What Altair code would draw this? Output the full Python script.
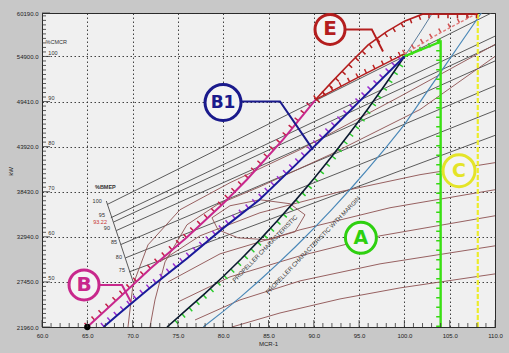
import altair as alt
import pandas as pd

# ---------------- axes ----------------
x_domain = [60, 110]
y_domain = [21960, 60190]
x_major = [60, 65, 70, 75, 80, 85, 90, 95, 100, 105, 110]
y_major = [21960, 27450, 32940, 38430, 43920, 49410, 54900, 60190]
x_minor = [v for v in range(61, 110) if v % 5 != 0]
y_minor = [21960 + 549 * k for k in range(1, 70) if k % 10 != 0]

cmcr_text = ["50", "60", "70", "80", "90", "100"]
cmcr_y = [27450, 32940, 38430, 43920, 49410, 54900]

# ---------------- constant %BMEP lines ----------------
mep_label = ["100", "95", "93.22", "90", "85", "80", "75"]
mep_x0 = [67.2, 67.6, 67.9, 68.2, 68.7, 69.2, 69.6]
mep_y0 = [36880, 35260, 34740, 33700, 32000, 30370, 28660]
mep_x1 = [109.6, 110, 110, 110, 110, 110, 110]
mep_y1 = [60190, 57370, 56300, 54350, 51330, 48310, 45290]
mep_lab_x = [66.6, 66.95, 67.17, 67.5, 68.28, 68.83, 69.16]
mep_lab_y = [37300, 35624, 34770, 34038, 32330, 30500, 28914]
mep_lab_color = ["#333", "#333", "#c83232", "#333", "#333", "#333", "#333"]
scale_x = [67.1, 70.1]
scale_y = [37300, 27330]

# ---------------- brown contour curves ----------------
brown = {
    "el1": ([69.49, 70.04, 71.70, 75.23, 80.75, 88.48, 99.51, 110],
            [21960, 27084, 31964, 36234, 39528, 43554, 50020, 56364]),
    "el2": ([71.92, 72.47, 73.58, 76.0, 79.32, 84.06, 91.79, 101.72, 110],
            [21960, 25254, 29890, 34404, 36844, 39040, 42944, 48434, 54900]),
    "loop": ([78.76, 80.75, 84.06, 87.37, 89.03, 87.93, 84.94, 81.63, 79.43, 78.76],
             [35258, 36722, 37454, 36966, 35624, 33550, 32574, 32818, 33794, 35258]),
    "br1": ([80.97, 86.27, 92.89, 99.51, 110], [21960, 23668, 25376, 26718, 28426]),
    "br2": ([76.89, 81.85, 88.48, 97.31, 110], [22814, 25254, 27572, 29646, 31842]),
    "br3": ([75.01, 80.75, 88.48, 97.31, 110], [25010, 28060, 30622, 33062, 35502]),
    "br4": ([73.91, 79.65, 88.48, 98.41, 110], [27450, 30866, 33794, 36478, 38674]),
    "br5": ([73.02, 77.44, 84.06, 92.89, 101.72, 110], [29890, 33062, 35868, 38430, 40504, 41968]),
}

# ---------------- engine limit lines ----------------
prop_x = [73.8, 76, 78, 80, 82, 84, 86, 88, 90, 92, 94, 96, 98, 100]
prop_y = [21960, 24100, 26050, 28110, 30270, 32540, 34920, 37410, 40020, 42750, 45600, 48570, 51670, 54900]
prop_ext_x = [100, 101, 102, 103.1]
prop_ext_y = [54900, 56560, 58260, 60190]
margin_x = [77.8, 80, 82, 84, 86, 88, 90, 92, 94, 96, 98, 100, 102, 104, 106, 108, 108.5]
margin_y = [21960, 23860, 25690, 27620, 29640, 31760, 33970, 36290, 38700, 41230, 43860, 46600, 49800, 53000, 56200, 59400, 60190]
b1_x = [66.8, 68.6, 72, 76, 80, 84, 88, 92, 96, 100]
b1_y = [21960, 23668, 26800, 30300, 34000, 37454, 41700, 46100, 50500, 54900]
b_x = [65, 68.6, 72, 76, 80, 82.6, 86.6, 90.2]
b_y = [21960, 25620, 29100, 32900, 37000, 39894, 44774, 49654]
red_x = [90.2, 95, 100]
red_y = [49654, 52400, 55200]
pink_x = [100, 104, 108.1]
pink_y = [55200, 57800, 60190]
e_x = [90.2, 92, 94, 96, 98, 100, 102, 103, 108.1]
e_y = [49654, 51800, 54100, 56300, 57900, 59200, 60050, 60050, 60050]
green_x = [100, 104, 104]
green_y = [54900, 56700, 21960]
yellow_x = [108.1, 108.1]
yellow_y = [21960, 60190]

# ---------------- annotations ----------------
circ_label = ["E", "B1", "B", "A", "C"]
circ_x = [91.79, 79.98, 64.64, 95.2, 106.03]
circ_y = [58194, 49288, 27084, 32818, 40992]
circ_size = [900, 1296, 900, 960, 1024]
circ_color = ["#b41e1e", "#1a1a8c", "#c8288c", "#2ed010", "#e4e428"]
circ_font = [20, 17, 20, 19, 19]

callouts = {
    "E": ([93.44, 96.4, 97.64], [58194, 58194, 55510], "#b41e1e"),
    "B1": ([81.96, 86.27, 89.91], [49410, 49410, 43554], "#1a1a8c"),
    "B": ([66.29, 68.83, 69.82], [27084, 27084, 25010], "#c8288c"),
}

rot_text = ["PROPELLER CHARACTERISTIC", "PROPELLER CHARACTERISTIC WITH MARGIN"]
rot_x = [84.6, 89.9]
rot_y = [31500, 31900]

FONT = "Liberation Sans"
XS = alt.Scale(domain=x_domain, nice=False, zero=False)
YS = alt.Scale(domain=y_domain, nice=False, zero=False)

x_axis = alt.Axis(values=x_major, format=".1f", grid=True, gridDash=[1.5, 2.5], gridColor="#2c2c2c",
                  gridWidth=0.9, ticks=False, domain=False, labelFontSize=6, labelColor="#222",
                  labelPadding=5, labelFlush=False, labelOverlap=False, labelFont=FONT,
                  title="MCR-1", titleFontSize=6, titleFontWeight="normal", titleFont=FONT,
                  titleColor="#222", titleX=226, titleY=16, titleBaseline="middle")
y_axis = alt.Axis(values=y_major, format=".1f", grid=True, gridDash=[1.5, 2.5], gridColor="#2c2c2c",
                  gridWidth=0.9, ticks=False, domain=False, labelFontSize=6, labelColor="#222",
                  labelPadding=4, labelFlush=False, labelOverlap=False, labelFont=FONT,
                  title="kW", titleFontSize=6, titleFontWeight="normal", titleFont=FONT,
                  titleColor="#222", titleX=-32, titleY=158, titleAngle=270,
                  titleBaseline="middle", titleAlign="center")


def pos():
    return dict(x=alt.X("x:Q", scale=XS, axis=x_axis), y=alt.Y("y:Q", scale=YS, axis=y_axis))


def line_layer(xs, ys, color, width=1.0, dash=None, xoff=0, yoff=0):
    df = pd.DataFrame({"x": xs, "y": ys, "i": list(range(len(xs)))})
    kw = dict(color=color, strokeWidth=width, clip=True)
    if dash:
        kw["strokeDash"] = dash
    if xoff:
        kw["xOffset"] = xoff
    if yoff:
        kw["yOffset"] = yoff
    return alt.Chart(df).mark_line(**kw).encode(order="i:Q", **pos())


def hatch(xs, ys, color, xoff, yoff, gap=6):
    return line_layer(xs, ys, color, width=4.5, dash=[1.5, gap], xoff=xoff, yoff=yoff)


layers = []

# MEP lines
mep_rows = []
for k in range(len(mep_label)):
    mep_rows.append({"s": mep_label[k], "x": mep_x0[k], "y": mep_y0[k], "i": 0})
    mep_rows.append({"s": mep_label[k], "x": mep_x1[k], "y": mep_y1[k], "i": 1})
layers.append(
    alt.Chart(pd.DataFrame(mep_rows)).mark_line(color="#4a4a4a", strokeWidth=0.9, clip=True).encode(
        detail="s:N", order="i:Q", **pos())
)
layers.append(line_layer(scale_x, scale_y, "#4a4a4a", 0.9))

# brown curves
brown_rows = []
for name, (bx, by) in brown.items():
    for i, (a, b) in enumerate(zip(bx, by)):
        brown_rows.append({"s": name, "x": a, "y": b, "i": i})
layers.append(
    alt.Chart(pd.DataFrame(brown_rows)).mark_line(color="#8c5050", strokeWidth=0.9, clip=True).encode(
        detail="s:N", order="i:Q", **pos())
)

# propeller characteristic with margin and extension
layers.append(line_layer(margin_x, margin_y, "#4a88b8", 1.2))
layers.append(line_layer(prop_ext_x, prop_ext_y, "#5a7c9c", 1.0))

# yellow and green limits
layers.append(line_layer(yellow_x, yellow_y, "#ecec2c", 2.2, dash=[5, 2]))
layers.append(hatch(green_x, green_y, "#36d812", -2.2, 0, gap=8))
layers.append(line_layer(green_x, green_y, "#3be014", 2.4))

# propeller curve
layers.append(hatch(prop_x, prop_y, "#2ccc2c", 1.8, 1.8, gap=8))
layers.append(line_layer(prop_x, prop_y, "#0c1a30", 1.6))

# B1
layers.append(hatch(b1_x, b1_y, "#9a30d0", -1.8, -1.8, gap=7))
layers.append(line_layer(b1_x, b1_y, "#1a1a9a", 2.0))

# B
layers.append(hatch(b_x, b_y, "#c42048", -1.8, -1.8, gap=8))
layers.append(line_layer(b_x, b_y, "#c8288c", 2.0))

# red MEP segment, pink dashed overload, E line
layers.append(hatch(red_x, red_y, "#c02424", -1.4, -1.8, gap=8))
layers.append(line_layer(red_x, red_y, "#b41e1e", 1.4))
layers.append(hatch(pink_x, pink_y, "#d05050", -1.4, -1.8, gap=9))
layers.append(line_layer(pink_x, pink_y, "#e07a7a", 1.4, dash=[3, 2]))
layers.append(hatch(e_x, e_y, "#b41e1e", 1.8, 1.8, gap=8))
layers.append(line_layer(e_x, e_y, "#b41e1e", 1.6))

# black start point
layers.append(
    alt.Chart(pd.DataFrame({"x": [b_x[0]], "y": [b_y[0]]})).mark_point(
        shape="circle", filled=True, color="#000", size=40, opacity=1).encode(**pos())
)


# inside ticks on the axes
def tick_rules(vals, axis, length):
    df = pd.DataFrame({"v": vals})
    if axis == "x":
        return alt.Chart(df).mark_rule(color="#333", strokeWidth=0.8).encode(
            x=alt.X("v:Q", scale=XS, axis=x_axis), y=alt.value(314), y2=alt.value(314 - length))
    return alt.Chart(df).mark_rule(color="#333", strokeWidth=0.8).encode(
        y=alt.Y("v:Q", scale=YS, axis=y_axis), x=alt.value(0), x2=alt.value(length))


layers.append(tick_rules(x_major, "x", 7))
layers.append(tick_rules(x_minor, "x", 4))
layers.append(tick_rules(y_major, "y", 8))
layers.append(tick_rules(y_minor, "y", 4))

# %CMCR labels
cm_df = pd.DataFrame({"x": [60.7] * len(cmcr_y), "y": cmcr_y, "t": cmcr_text})
layers.append(alt.Chart(cm_df).mark_text(align="left", baseline="bottom", dy=-0.5, fontSize=5.5,
                                         font=FONT, color="#333").encode(text="t:N", **pos()))
layers.append(alt.Chart(pd.DataFrame({"x": [60.4], "y": [56300], "t": ["%CMCR"]})).mark_text(
    align="left", baseline="bottom", fontSize=5.5, font=FONT, color="#333").encode(text="t:N", **pos()))

# %BMEP labels
bm_df = pd.DataFrame({"x": mep_lab_x, "y": mep_lab_y, "t": mep_label, "c": mep_lab_color})
layers.append(alt.Chart(bm_df).mark_text(align="right", baseline="middle", fontSize=5.5, font=FONT).encode(
    text="t:N", color=alt.Color("c:N", scale=None), **pos()))
layers.append(alt.Chart(pd.DataFrame({"x": [65.85], "y": [39000], "t": ["%BMEP"]})).mark_text(
    align="left", baseline="middle", fontSize=5.5, font=FONT, fontWeight="bold", color="#333").encode(
    text="t:N", **pos()))

# rotated curve captions
rt_df = pd.DataFrame({"x": rot_x, "y": rot_y, "t": rot_text})
layers.append(alt.Chart(rt_df).mark_text(angle=314, fontSize=6, font=FONT, color="#333",
                                         baseline="middle", align="center").encode(text="t:N", **pos()))

# callout lines
co_rows = []
for name, (cx, cy, cc) in callouts.items():
    for i, (a, b) in enumerate(zip(cx, cy)):
        co_rows.append({"s": name, "x": a, "y": b, "i": i, "c": cc})
layers.append(alt.Chart(pd.DataFrame(co_rows)).mark_line(strokeWidth=2).encode(
    detail="s:N", order="i:Q", color=alt.Color("c:N", scale=None), **pos()))

# circled labels
c_df = pd.DataFrame({"x": circ_x, "y": circ_y, "t": circ_label, "s": circ_size,
                     "c": circ_color, "f": circ_font})
layers.append(alt.Chart(c_df).mark_point(shape="circle", filled=True, fill="#f4f4f4", strokeWidth=3,
                                         opacity=1).encode(
    size=alt.Size("s:Q", scale=None), stroke=alt.Stroke("c:N", scale=None), **pos()))
layers.append(alt.Chart(c_df).mark_text(fontWeight="bold", font="DejaVu Sans", baseline="middle",
                                        align="center").encode(
    text="t:N", size=alt.Size("f:Q", scale=None), color=alt.Color("c:N", scale=None), **pos()))

chart = alt.layer(*layers).properties(
    width=453, height=314,
    padding={"left": 42, "top": 13, "right": 14, "bottom": 26},
    autosize=alt.AutoSizeParams(type="none"),
    background="#c8c8c8",
).configure_view(fill="#f0f0f0", stroke="#2a2a2a", strokeWidth=1)

chart.save("out.html", embed_options={"renderer": "svg", "actions": False})
